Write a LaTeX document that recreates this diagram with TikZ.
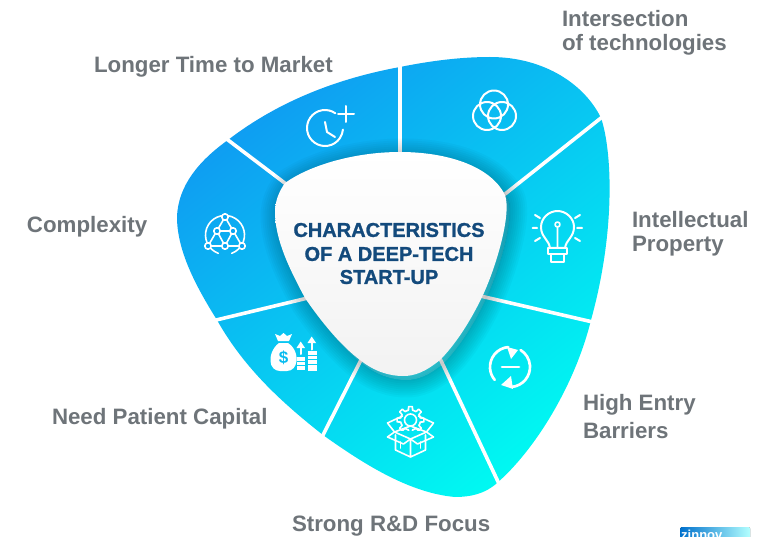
\documentclass[tikz,border=0pt]{standalone}
\usepackage{fontspec}
\setmainfont{Liberation Sans}
\newfontfamily\titlefont[BoldFeatures={FakeBold=1.2}]{Liberation Sans}
\begin{document}
\begin{tikzpicture}[x=1pt,y=-1pt,
  label/.style={font=\fontsize{22.3}{26}\selectfont\bfseries,text=lbl,anchor=west,inner sep=0pt,outer sep=0pt},
  head/.style={font=\titlefont\fontsize{20}{24}\selectfont\bfseries,text=navy,inner sep=0pt,outer sep=0pt},
  sep/.style={draw=white,line width=3.6pt},
  icon/.style={draw=white,line width=2pt,line cap=round,line join=round},
  thinicon/.style={icon,line width=1.6pt}]
\definecolor{lbl}{HTML}{6E7479}
\definecolor{navy}{HTML}{134A7C}
\definecolor{blueA}{HTML}{0F9CF2}
\definecolor{cyanB}{HTML}{00F8F2}
\definecolor{shade}{HTML}{004F8F}
\definecolor{ringleft}{HTML}{0CA6F2}
\definecolor{ringlow}{HTML}{08BCF0}
\useasboundingbox (0,0) rectangle (773,537);
\def\outerpath{(400,67) .. controls (430,61) and (460,57) .. (490,57)
  .. controls (545,57) and (585,85) .. (601,118)
  .. controls (612,150) and (616,230) .. (591,320)
  .. controls (575,385) and (535,450) .. (497,483)
  .. controls (485,494) and (470,497) .. (455,497)
  .. controls (410,493) and (365,465) .. (323,435)
  .. controls (285,405) and (245,370) .. (217,320)
  .. controls (195,285) and (177,250) .. (177,217)
  .. controls (178,185) and (200,160) .. (228,140)
  .. controls (280,100) and (340,78) .. (400,67) -- cycle}
\def\innerpath{(400,152) .. controls (445,152) and (490,165) .. (505,195)
  .. controls (512,215) and (495,270) .. (482,297)
  .. controls (470,322) and (455,345) .. (440,360)
  .. controls (425,372) and (415,376) .. (403,376)
  .. controls (390,376) and (375,372) .. (360,360)
  .. controls (340,345) and (320,320) .. (305,298)
  .. controls (290,270) and (275,240) .. (275,212)
  .. controls (275,200) and (280,190) .. (285,183)
  .. controls (310,165) and (355,152) .. (400,152) -- cycle}
% ring
\shade[top color=blueA,bottom color=cyanB,shading angle=38] \outerpath;
% separators
\draw[sep] (400,60) -- (400,160);
\draw[sep] (224,137) -- (290,187);
\draw[sep] (606,114) -- (500,198);
\draw[sep] (597,323) -- (476,295);
\draw[sep] (212,321) -- (312,297);
\draw[sep] (321,439) -- (365,352);
\draw[sep] (501,488) -- (436,350);
% shadow of the centre
\begin{scope}
  \clip \outerpath;
  \foreach \w in {3,7,...,35}
    \draw[shade,line width=\w pt,opacity=0.022,line join=round] [shift={(3,4)}] \innerpath;
\end{scope}
% centre
\shade[top color=white,bottom color=black!5] \innerpath;
\node[head] (t1) at (389,230) {CHARACTERISTICS};
\node[head] (t2) at (389,254) {OF A DEEP-TECH};
\node[head] (t3) at (389,277) {START-UP};
% labels
\node[label] (l1) at (562,19) {Intersection};
\node[label] (l2) at (562,45) {of technologies};
\node[label] (l3) at (94,67) {Longer Time to Market};
\node[label] (l4) at (27,227) {Complexity};
\node[label] (l5) at (632,220) {Intellectual};
\node[label] (l6) at (632,246) {Property};
\node[label] (l7) at (583,405) {High Entry};
\node[label] (l8) at (583,431) {Barriers};
\node[label] (l9) at (52,419) {Need Patient Capital};
\node[label] (l10) at (292,526) {Strong R\&D Focus};
% clock icon
\begin{scope}[shift={(325,128)}]
  \draw[icon] (-55:18) arc (-55:-355:18);
  \draw[icon] (0,-6) -- (2,4) -- (10,9);
  \draw[icon] (21,-22) -- (21,-6) (13,-14) -- (29,-14);
\end{scope}
% venn icon
\draw[icon] (494,104.5) circle (14) (487,116) circle (14) (502,116) circle (14);
% bulb icon
\draw[icon] (550,248) .. controls (549,240) and (541,237) .. (541,227)
  .. controls (541,218) and (549,211) .. (557.5,211)
  .. controls (566,211) and (574,218) .. (574,227)
  .. controls (574,237) and (566,240) .. (565,248) -- cycle;
\draw[icon] (550,248) -- (548,248) -- (548,254) -- (551,254) -- (551,262) -- (564,262) -- (564,254) -- (567,254) -- (567,248) -- (565,248) (551,254) -- (564,254);
\draw[thinicon] (557.5,224.5) circle (2.5) (557.5,227) -- (557.5,248);
\draw[icon] (532.5,228) -- (537,228) (535,215) -- (540,218) (535,241) -- (540,238)
  (577,228) -- (582,228) (575,218) -- (580,215) (575,238) -- (580,241);
% refresh icon
\begin{scope}[shift={(510,367)}]
  \draw[icon,line width=2.7pt] (-95:20) arc (-95:-220:20);
  \draw[icon,line width=2.7pt] (85:20) arc (85:-58:20);
  \draw[icon,line width=2.7pt] (-8,0) -- (9,0);
  \fill[white] (-3,-20) -- (8,-17) -- (1,-8) -- cycle;
  \fill[white] (1,9) -- (-9,18) -- (3,22) -- cycle;
\end{scope}
% complexity icon
\begin{scope}[shift={(225,235)}]
  \draw[thinicon] (110:19.5) arc (110:430:19.5);
  \draw[thinicon] (0,-18) -- (-17,11) -- (17,11) -- cycle
    (-8,-4) -- (8,-4) -- (0,11) -- cycle;
  \foreach \p in {(0,-18),(-17,11),(17,11),(0,11),(-8,-4),(8,-4)}
    \filldraw[thinicon,fill=ringleft] \p circle (3.2);
\end{scope}
% money icon
\begin{scope}
  \fill[white] (278,341) -- (275,334) -- (280,336) -- (283.5,333) -- (287,336) -- (292,334) -- (289,341) -- cycle;
  \fill[white] (279,343) -- (288,343) .. controls (296,348) and (297,357) .. (296.5,361)
     .. controls (296,367) and (292,371) .. (287,371) -- (280,371)
     .. controls (275,371) and (270.5,367) .. (270.5,361)
     .. controls (270,357) and (272,348) .. (279,343) -- cycle;
  \node[font=\fontsize{17}{17}\selectfont\bfseries,text=ringlow,inner sep=0pt] (dollar) at (283.5,357.5) {\$};
  \foreach \y in {359,363.5,368} \draw[white,line width=3.4pt] (297,\y) -- (305,\y);
  \foreach \y in {353,357.5,362,366.5,369} \draw[white,line width=3.4pt] (307.5,\y) -- (316.5,\y);
  \draw[icon] (300.7,354) -- (300.7,346);
  \fill[white] (300.7,341.5) -- (296.5,348) -- (305,348) -- cycle;
  \draw[icon] (311.7,349.5) -- (311.7,341);
  \fill[white] (311.7,336.5) -- (307.5,343) -- (316,343) -- cycle;
\end{scope}
% gear box icon
\begin{scope}[shift={(410.5,420)}]
  \begin{scope}
    \clip (-20,-20) rectangle (20,10);
    \foreach \a in {0,45,...,315}
      \draw[thinicon] (\a-22.5:10) -- (\a-12:10) -- (\a-8:13.5) -- (\a+8:13.5) -- (\a+12:10) -- (\a+22.5:10);
  \end{scope}
  \draw[thinicon] (0,0) circle (6);
  \draw[thinicon] (-16,12) -- (0,19) -- (16,12) -- (0,6) -- cycle;
  \draw[thinicon] (-15,15) -- (-15,30) -- (0,37) -- (15,30) -- (15,15) (0,19) -- (0,37);
  \draw[thinicon] (-16,12) -- (-23,3) -- (-8,-4) (16,12) -- (23,3) -- (8,-4);
  \draw[thinicon] (-16,12) -- (-23,17) -- (-7,24) -- (0,19) -- (7,24) -- (23,17) -- (16,12);
  \draw[thinicon] (-10,22) -- (-10,28) (10,22) -- (10,28);
\end{scope}
% logo
\begin{scope}
  \clip (0,0) rectangle (773,537);
  \fill[left color=black!0!blue!45!cyan!80!black,right color=cyan!30!white,rounded corners=1.5pt] (680,527) rectangle (750,545);
  \node[font=\fontsize{13}{13}\selectfont\bfseries,text=white,anchor=base west,inner sep=0pt] (logo) at (681,539) {zinnov};
\end{scope}
\end{tikzpicture}
\end{document}
